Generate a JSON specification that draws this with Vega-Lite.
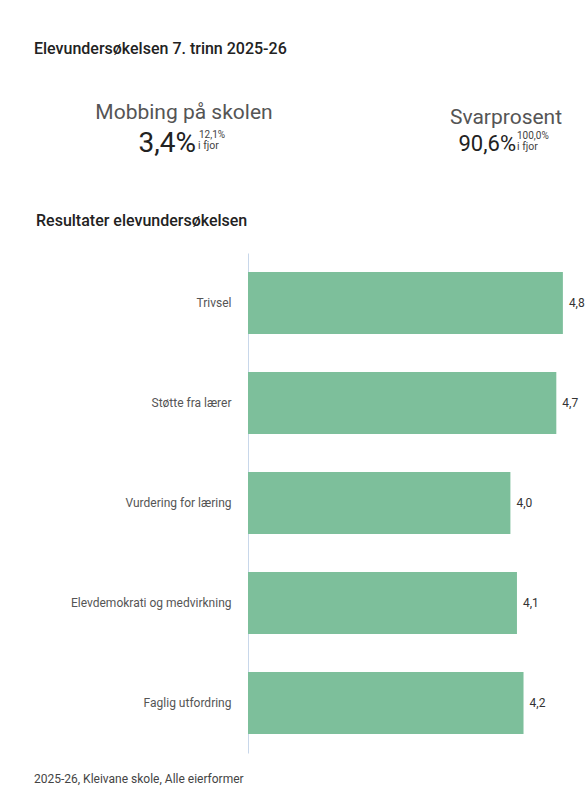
{
  "$schema": "https://vega.github.io/schema/vega-lite/v6.json",
  "background": "white",
  "padding": {"left": 34, "top": 41, "right": 0, "bottom": 4},
  "title": {
    "text": "2025-26, Kleivane skole, Alle eierformer",
    "orient": "bottom",
    "anchor": "start",
    "frame": "bounds",
    "fontSize": 12,
    "fontWeight": "normal",
    "color": "#444444",
    "offset": 21
  },
  "spacing": 48,
  "vconcat": [
    {
      "title": {
        "text": "Elevundersøkelsen 7. trinn 2025-26",
        "anchor": "start",
        "frame": "group",
        "dx": -214,
        "fontSize": 16,
        "fontWeight": 500,
        "color": "#222222",
        "baseline": "alphabetic",
        "offset": 25
      },
      "width": 300,
      "height": 70,
      "data": {
        "values": [
          {"kpi": "Mobbing på skolen", "verdi": 0.034, "ifjor": 0.121},
          {"kpi": "Svarprosent", "verdi": 0.906, "ifjor": 1.0}
        ]
      },
      "encoding": {
        "x": {
          "field": "kpi",
          "type": "nominal",
          "scale": {"type": "point", "domain": ["Mobbing på skolen", "Svarprosent"], "range": [-64, 258], "padding": 0},
          "axis": null
        }
      },
      "layer": [
        {
          "transform": [{"filter": {"field": "kpi", "equal": "Mobbing på skolen"}}],
          "mark": {"type": "text", "fontSize": 21, "color": "#555555", "baseline": "alphabetic", "align": "center", "dy": -11},
          "encoding": {"text": {"field": "kpi", "type": "nominal"}}
        },
        {
          "transform": [{"filter": {"field": "kpi", "equal": "Mobbing på skolen"}}],
          "mark": {"type": "text", "fontSize": 28, "color": "#222222", "baseline": "alphabetic", "align": "right", "dx": 12, "dy": 22},
          "encoding": {"text": {"field": "verdi", "type": "quantitative", "format": ".1%"}}
        },
        {
          "transform": [{"filter": {"field": "kpi", "equal": "Mobbing på skolen"}}],
          "mark": {"type": "text", "fontSize": 10, "color": "#444444", "baseline": "alphabetic", "align": "left", "dx": 15, "dy": 8},
          "encoding": {"text": {"field": "ifjor", "type": "quantitative", "format": ".1%"}}
        },
        {
          "transform": [{"filter": {"field": "kpi", "equal": "Mobbing på skolen"}}],
          "mark": {"type": "text", "fontSize": 10.5, "color": "#444444", "baseline": "alphabetic", "align": "left", "dx": 14, "dy": 19, "text": "i fjor"},
          "encoding": {}
        },
        {
          "transform": [{"filter": {"field": "kpi", "equal": "Svarprosent"}}],
          "mark": {"type": "text", "fontSize": 21, "color": "#555555", "baseline": "alphabetic", "align": "center", "dy": -6},
          "encoding": {"text": {"field": "kpi", "type": "nominal"}}
        },
        {
          "transform": [{"filter": {"field": "kpi", "equal": "Svarprosent"}}],
          "mark": {"type": "text", "fontSize": 22, "color": "#222222", "baseline": "alphabetic", "align": "right", "dx": 10, "dy": 21},
          "encoding": {"text": {"field": "verdi", "type": "quantitative", "format": ".1%"}}
        },
        {
          "transform": [{"filter": {"field": "kpi", "equal": "Svarprosent"}}],
          "mark": {"type": "text", "fontSize": 10, "color": "#444444", "baseline": "alphabetic", "align": "left", "dx": 11, "dy": 9},
          "encoding": {"text": {"field": "ifjor", "type": "quantitative", "format": ".1%"}}
        },
        {
          "transform": [{"filter": {"field": "kpi", "equal": "Svarprosent"}}],
          "mark": {"type": "text", "fontSize": 10.5, "color": "#444444", "baseline": "alphabetic", "align": "left", "dx": 11, "dy": 20, "text": "i fjor"},
          "encoding": {}
        }
      ]
    },
    {
      "title": {
        "text": "Resultater elevundersøkelsen",
        "anchor": "start",
        "frame": "bounds",
        "fontSize": 16,
        "fontWeight": 500,
        "color": "#222222",
        "baseline": "alphabetic",
        "offset": 11,
        "dx": 2
      },
      "width": 328,
      "height": 500,
      "data": {
        "values": [
          {"indikator": "Trivsel", "snitt": 4.8},
          {"indikator": "Støtte fra lærer", "snitt": 4.7},
          {"indikator": "Vurdering for læring", "snitt": 4.0},
          {"indikator": "Elevdemokrati og medvirkning", "snitt": 4.1},
          {"indikator": "Faglig utfordring", "snitt": 4.2}
        ]
      },
      "encoding": {
        "y": {
          "field": "indikator",
          "type": "nominal",
          "sort": null,
          "scale": {"paddingInner": 0.38, "paddingOuter": 0.19},
          "axis": {
            "title": null,
            "ticks": false,
            "grid": false,
            "labelPadding": 17,
            "labelFontSize": 12,
            "labelColor": "#555555",
            "labelLimit": 250,
            "domainColor": "#c8d7ea",
            "domainWidth": 1,
            "minExtent": 214
          }
        },
        "x": {
          "field": "snitt",
          "type": "quantitative",
          "scale": {"domain": [0, 5]},
          "axis": null
        }
      },
      "layer": [
        {"mark": {"type": "bar", "color": "#7dbf9b"}},
        {
          "mark": {"type": "text", "align": "left", "baseline": "middle", "dx": 6, "fontSize": 12, "color": "#333333"},
          "encoding": {"text": {"field": "snitt", "type": "quantitative", "format": ".1f"}}
        }
      ]
    }
  ],
  "config": {
    "font": "Roboto",
    "view": {"stroke": null},
    "locale": {
      "number": {"decimal": ",", "thousands": " ", "grouping": [3], "currency": ["", " kr"]}
    }
  }
}
